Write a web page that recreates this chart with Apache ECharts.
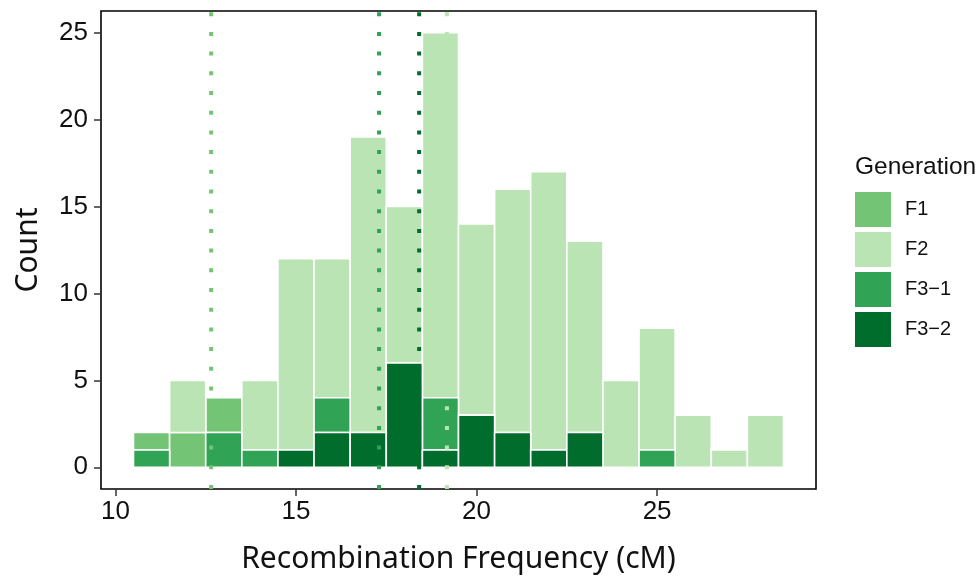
<!DOCTYPE html>
<html>
<head>
<meta charset="utf-8">
<script src="https://cdn.jsdelivr.net/npm/echarts@6/dist/echarts.min.js"></script>
<style>
  html, body { margin: 0; padding: 0; background: #fff; }
  #chart { width: 980px; height: 579px; }
</style>
</head>
<body>
<div id="chart"></div>
<script>
// bin centres (binwidth 1)
const bins = [11, 12, 13, 14, 15, 16, 17, 18, 19, 20, 21, 22, 23, 24, 25, 26, 27, 28];
const generations = ['F1', 'F2', 'F3−1', 'F3−2'];
const colors = ['#74C476', '#BAE4B3', '#31A354', '#006D2C'];
// counts per bin, per generation
const countF1  = [1, 2, 2, 0, 0, 0, 0, 0, 0, 0, 0, 0, 0, 0, 0, 0, 0, 0];
const countF2  = [0, 3, 0, 4, 11, 8, 17, 9, 21, 11, 14, 16, 11, 5, 7, 3, 1, 3];
const countF31 = [1, 0, 2, 1, 0, 2, 0, 0, 3, 0, 0, 0, 0, 0, 1, 0, 0, 0];
const countF32 = [0, 0, 0, 0, 1, 2, 2, 6, 1, 3, 2, 1, 2, 0, 0, 0, 0, 0];
// generation means (dotted lines)
const means = [12.65, 19.18, 17.30, 18.41];
const yTicks = [0, 5, 10, 15, 20, 25];
const xTicks = [10, 15, 20, 25];

const counts = [countF1, countF2, countF31, countF32];
// stacking bottom -> top: F3-2, F3-1, F1, F2
const stackOrder = [3, 2, 0, 1];

const chart = echarts.init(document.getElementById('chart'));

const base = bins.map(() => 0);
const barSeries = [];
stackOrder.forEach(g => {
  const data = bins.map((b, i) => {
    const y0 = base[i];
    const y1 = y0 + counts[g][i];
    base[i] = y1;
    return [b, y0, y1];
  });
  barSeries[g] = {
    name: generations[g],
    type: 'custom',
    itemStyle: { color: colors[g] },
    renderItem: (params, api) => {
      const y0 = api.value(1), y1 = api.value(2);
      if (y1 <= y0) return null;
      const x = api.value(0);
      const p0 = api.coord([x - 0.5, y1]);
      const p1 = api.coord([x + 0.5, y0]);
      return {
        type: 'rect',
        shape: { x: p0[0], y: p0[1], width: p1[0] - p0[0], height: p1[1] - p0[1] },
        style: { fill: colors[g], stroke: '#fff', lineWidth: 1.6 }
      };
    },
    encode: { x: 0, y: [1, 2] },
    data: data,
    z: 2
  };
});

const meanSeries = {
  name: 'means',
  type: 'custom',
  z: 5,
  silent: true,
  renderItem: (params, api) => {
    const cs = params.coordSys;
    const x = api.coord([api.value(0), 0])[0];
    return {
      type: 'line',
      shape: { x1: x, y1: cs.y + cs.height, x2: x, y2: cs.y },
      style: { stroke: colors[params.dataIndex], lineWidth: 4, lineDash: [4, 15.7] }
    };
  },
  encode: { x: 0 },
  data: means.map(m => [m])
};

const tickFont = { fontFamily: 'Liberation Sans', fontSize: 26, color: '#111' };
const titleFont = { fontFamily: 'Noto Sans', fontSize: 30, color: '#111' };

chart.setOption({
  animation: false,
  grid: {
    left: 101, top: 11, right: 164, bottom: 88,
    show: true, borderColor: '#000', borderWidth: 1.6, containLabel: false
  },
  title: {
    text: 'Generation',
    left: 850, top: 150,
    textStyle: { fontFamily: 'Liberation Sans', fontSize: 24.5, fontWeight: 'normal', color: '#111' }
  },
  legend: {
    data: generations,
    orient: 'vertical',
    left: 855, top: 192,
    padding: 0,
    itemWidth: 36, itemHeight: 35, itemGap: 5,
    icon: 'rect',
    textStyle: { fontFamily: 'Liberation Sans', fontSize: 20, color: '#111', padding: [0, 0, 0, 9] },
    selectedMode: false
  },
  xAxis: {
    type: 'value',
    min: 9.6, max: 29.4,
    name: 'Recombination Frequency (cM)',
    nameLocation: 'middle',
    nameGap: 55,
    nameTextStyle: titleFont,
    axisLine: { show: false, onZero: false },
    axisTick: { show: true, length: 7, lineStyle: { color: '#333', width: 1.5 }, customValues: xTicks },
    axisLabel: Object.assign({ margin: 10, customValues: xTicks }, tickFont),
    splitLine: { show: false }
  },
  yAxis: {
    type: 'value',
    min: -1.25, max: 26.25,
    name: 'Count',
    nameLocation: 'middle',
    nameGap: 58,
    nameTextStyle: titleFont,
    axisLine: { show: false, onZero: false },
    axisTick: { show: true, length: 7, lineStyle: { color: '#333', width: 1.5 }, customValues: yTicks },
    axisLabel: Object.assign({ margin: 13, customValues: yTicks }, tickFont),
    splitLine: { show: false }
  },
  series: barSeries.concat([meanSeries])
});
</script>
</body>
</html>
